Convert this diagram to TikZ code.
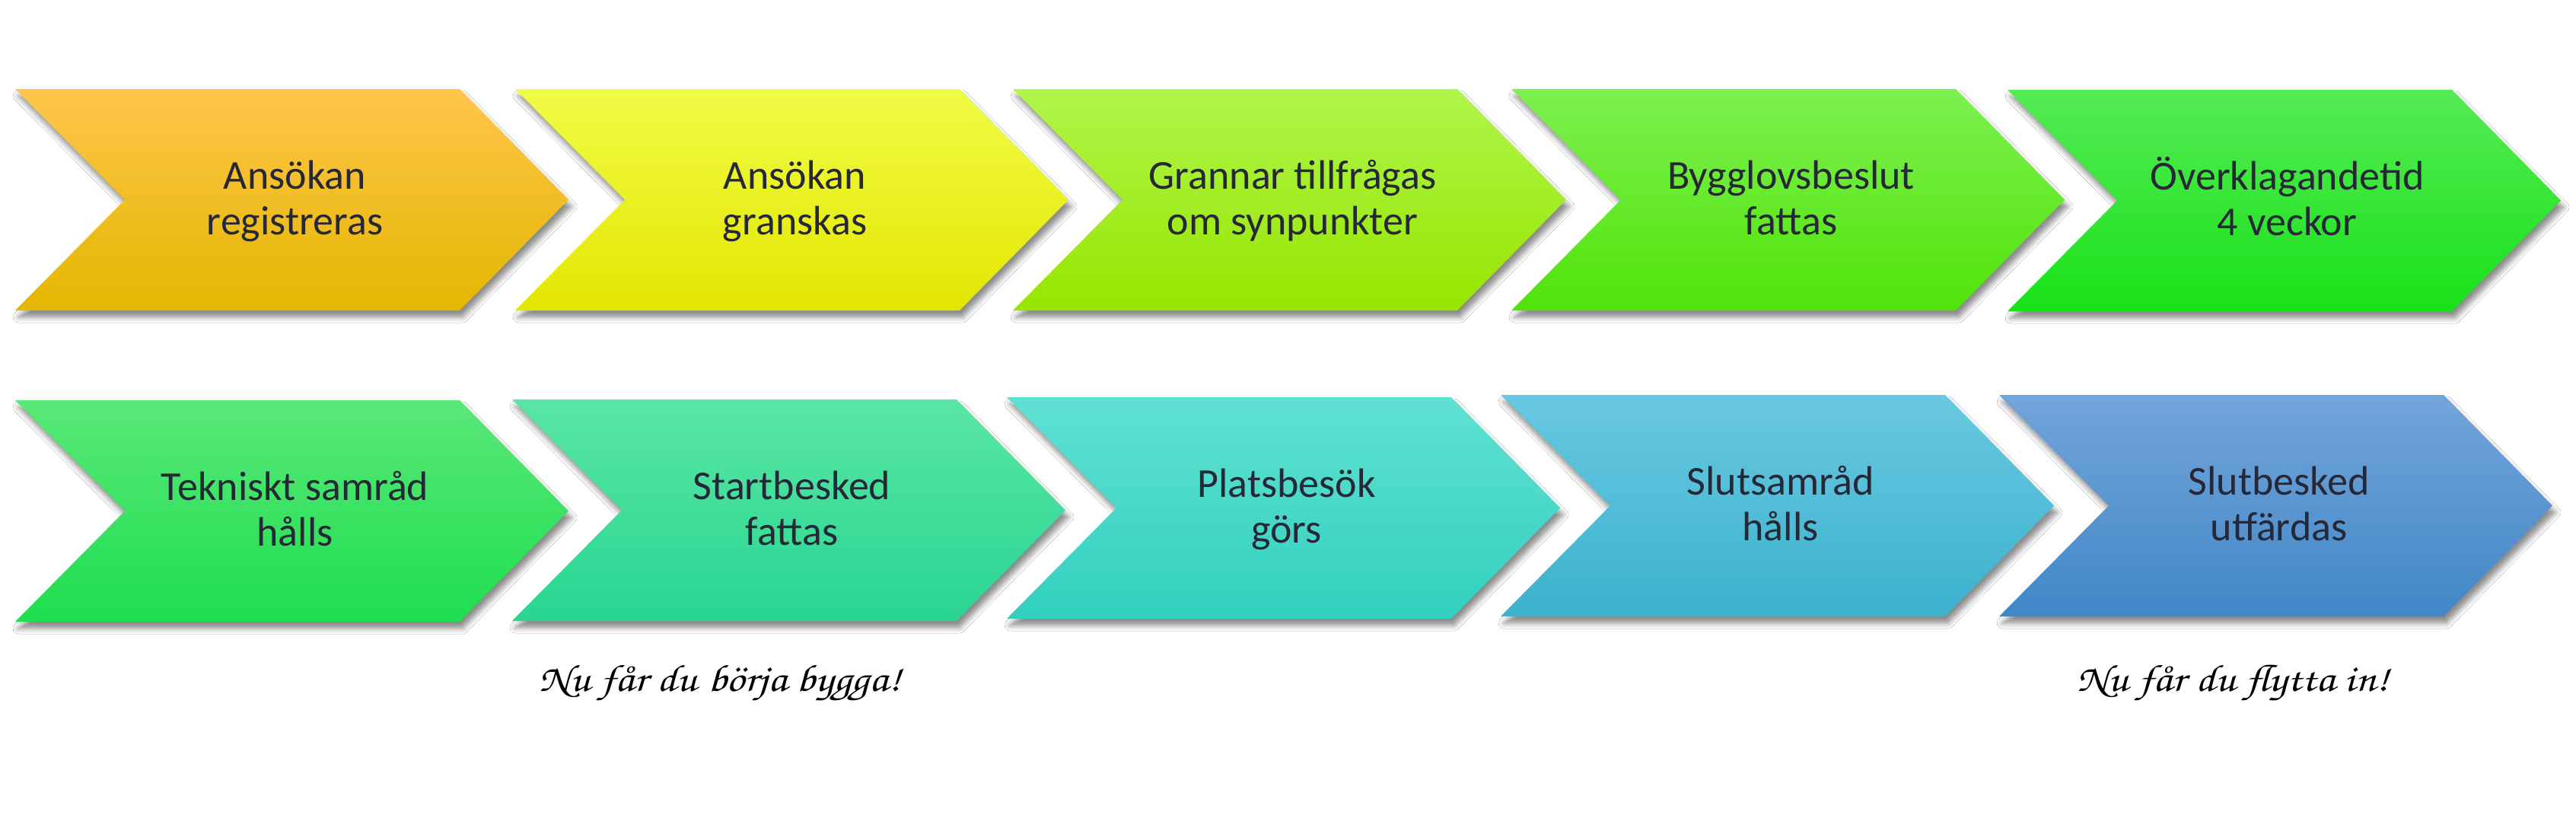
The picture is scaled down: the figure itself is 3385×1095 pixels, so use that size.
\documentclass[tikz,border=0pt]{standalone}
\usepackage{fontspec}
\setmainfont{Carlito}
\newfontfamily\handfont[FakeStretch=1.18]{TeX Gyre Chorus}
\usetikzlibrary{shadows.blur}
\definecolor{txt}{RGB}{38,40,55}
\definecolor{aT}{RGB}{255,197,75}\definecolor{aM}{RGB}{252,192,0}\definecolor{aB}{RGB}{228,183,0}
\definecolor{bT}{RGB}{240,252,70}\definecolor{bM}{RGB}{245,248,0}\definecolor{bB}{RGB}{228,230,0}
\definecolor{cT}{RGB}{175,245,75}\definecolor{cM}{RGB}{165,248,15}\definecolor{cB}{RGB}{150,230,0}
\definecolor{dT}{RGB}{125,240,80}\definecolor{dM}{RGB}{100,240,30}\definecolor{dB}{RGB}{80,228,10}
\definecolor{eT}{RGB}{85,235,85}\definecolor{eM}{RGB}{45,235,45}\definecolor{eB}{RGB}{25,225,25}
\definecolor{fT}{RGB}{90,232,120}\definecolor{fM}{RGB}{45,235,95}\definecolor{fB}{RGB}{30,222,80}
\definecolor{gT}{RGB}{90,230,165}\definecolor{gM}{RGB}{55,228,155}\definecolor{gB}{RGB}{40,213,145}
\definecolor{hT}{RGB}{95,225,210}\definecolor{hM}{RGB}{65,225,205}\definecolor{hB}{RGB}{50,208,190}
\definecolor{iT}{RGB}{105,200,225}\definecolor{iM}{RGB}{75,195,220}\definecolor{iB}{RGB}{60,178,205}
\definecolor{jT}{RGB}{115,165,218}\definecolor{jM}{RGB}{85,150,215}\definecolor{jB}{RGB}{65,135,200}
\tikzset{
  chevshadow/.style={blur shadow={shadow xshift=4pt, shadow yshift=-9pt, shadow blur radius=7pt, shadow opacity=45}},
  lbl/.style={anchor=base, text=txt, inner sep=0pt, font=\fontsize{54}{60}\selectfont},
  caption/.style={anchor=base, text=black, inner sep=0pt, font=\handfont\fontsize{50}{56}\selectfont}
}
% #1 name, #2 left x, #3 top y, #4 colour prefix, #5 line 1, #6 line 2
\newcommand{\mychev}[6]{%
  \shade[chevshadow, top color=#4T, middle color=#4M, bottom color=#4B]
    (#2,#3) -- ++(584,0) -- ++(143,145.5) -- ++(-143,145.5) -- ++(-584,0) -- ++(144,-145.5) -- cycle;
  \node[lbl] (#1a) at (#2+367.5,#3+131.5) {#5};
  \node[lbl] (#1b) at (#2+367.5,#3+191) {#6};
}
\begin{document}
\begin{tikzpicture}[x=1pt,y=-1pt]
  \fill[white] (0,0) rectangle (3385,1095);
  \useasboundingbox (0,0) rectangle (3385,1095);
  \mychev{c1}{20}{117}{a}{Ansökan}{registreras}
  \mychev{c2}{677}{117}{b}{Ansökan}{granskas}
  \mychev{c3}{1331}{117}{c}{Grannar tillfrågas}{om synpunkter}
  \mychev{c4}{1986}{117}{d}{Bygglovsbeslut}{fattas}
  \mychev{c5}{2638}{118}{e}{Överklagandetid}{4 veckor}
  \mychev{c6}{20}{526}{f}{Tekniskt samråd}{hålls}
  \mychev{c7}{673}{525}{g}{Startbesked}{fattas}
  \mychev{c8}{1323}{522}{h}{Platsbesök}{görs}
  \mychev{c9}{1972}{519}{i}{Slutsamråd}{hålls}
  \mychev{c10}{2627}{519}{j}{Slutbesked}{utfärdas}
  \node[caption] (n1) at (946,908) {Nu får du börja bygga!};
  \node[caption] (n2) at (2934,908) {Nu får du flytta in!};
\end{tikzpicture}
\end{document}
